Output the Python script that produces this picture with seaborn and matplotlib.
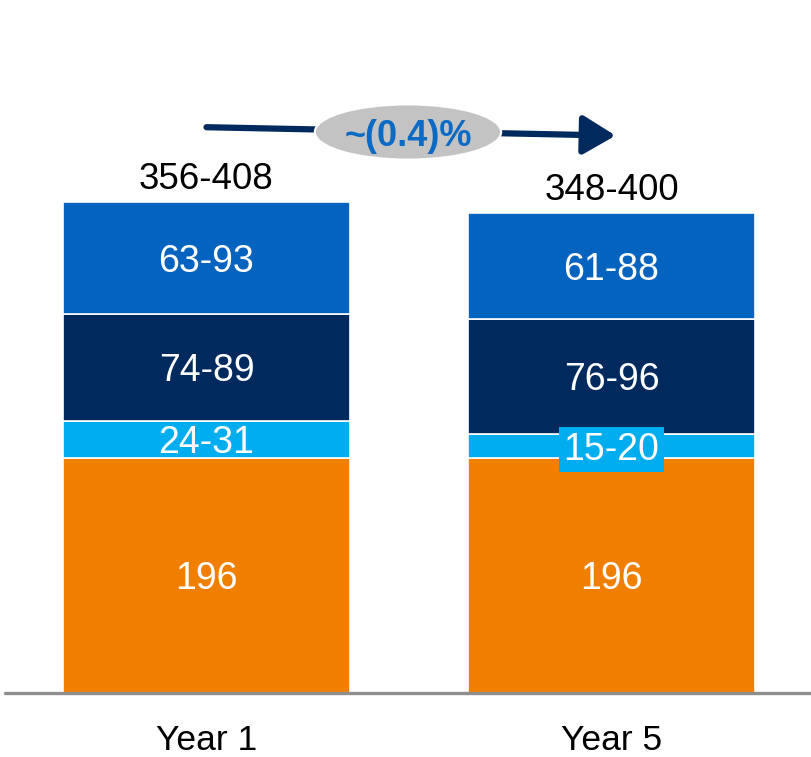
import matplotlib
matplotlib.use("Agg")
import matplotlib.pyplot as plt
from matplotlib.patches import Ellipse, FancyArrowPatch
import seaborn as sns
import pandas as pd
import numpy as np

# Stacked components (bottom to top); bar heights use the upper bound of each range
years = ["Year 1", "Year 5"]
segment_names = ["Base", "Component A", "Component B", "Component C"]
segment_labels = [["196", "196"], ["24-31", "15-20"], ["74-89", "76-96"], ["63-93", "61-88"]]
segment_values = [[196, 196], [31, 20], [89, 96], [93, 88]]
total_labels = ["356-408", "348-400"]
change_label = "~(0.4)%"
colors = ["#F07F00", "#00AEEF", "#002A5E", "#0563C0"]

sns.set_theme(style="white")
plt.rcParams["font.family"] = ["Liberation Sans", "DejaVu Sans"]

fig = plt.figure(figsize=(8.12, 7.57), dpi=100)
ax = fig.add_axes([5 / 812, 64 / 757, 807 / 812, 693 / 757])

bottoms = np.zeros(len(years))
for name, vals, labs, col in zip(segment_names, segment_values, segment_labels, colors):
    df = pd.DataFrame({"year": years, "value": vals})
    sns.barplot(data=df, x="year", y="value", color=col, width=0.709,
                bottom=bottoms.copy(), edgecolor="white", linewidth=1.2,
                saturation=1, ax=ax, zorder=2)
    for i, (v, lab) in enumerate(zip(vals, labs)):
        yc = bottoms[i] + v / 2
        box = None
        if name == "Component A" and i == 1:
            box = dict(boxstyle="square,pad=0.12", facecolor=col, edgecolor="none")
        ax.text(i, yc, lab, ha="center", va="center_baseline", color="white",
                fontsize=27, bbox=box, zorder=5)
    bottoms = bottoms + np.array(vals)

for i, lab in enumerate(total_labels):
    ax.text(i, bottoms[i] + 22, lab, ha="center", va="center_baseline",
            fontsize=26.5, color="black")

ax.set_xlim(-0.4975, 1.495)
ax.set_ylim(0, 577.5)
ax.axhline(0, color="#8E8E8E", lw=2.4, zorder=10, clip_on=False)

# Trend arrow with the change badge
arrow = FancyArrowPatch((0.0, 471.5), (1.01, 464.5), arrowstyle="-|>,head_length=10,head_width=6",
                        color="#002A5E", lw=4.5, mutation_scale=2, zorder=3,
                        shrinkA=0, shrinkB=0)
ax.add_patch(arrow)
ax.add_patch(Ellipse((0.4975, 467.5), 0.46, 46, facecolor="#C3C3C3",
                     edgecolor="white", lw=1.5, zorder=4))
ax.text(0.4975, 467.5, change_label, ha="center", va="center_baseline",
        fontsize=26, fontweight="bold", color="#0A6AC4", zorder=5)

ax.set_xlabel("")
ax.set_ylabel("")
ax.set_yticks([])
ax.tick_params(axis="x", length=0, pad=22, labelsize=25.5, labelcolor="black")
for s in ax.spines.values():
    s.set_visible(False)

fig.savefig("out.png", dpi=100)
